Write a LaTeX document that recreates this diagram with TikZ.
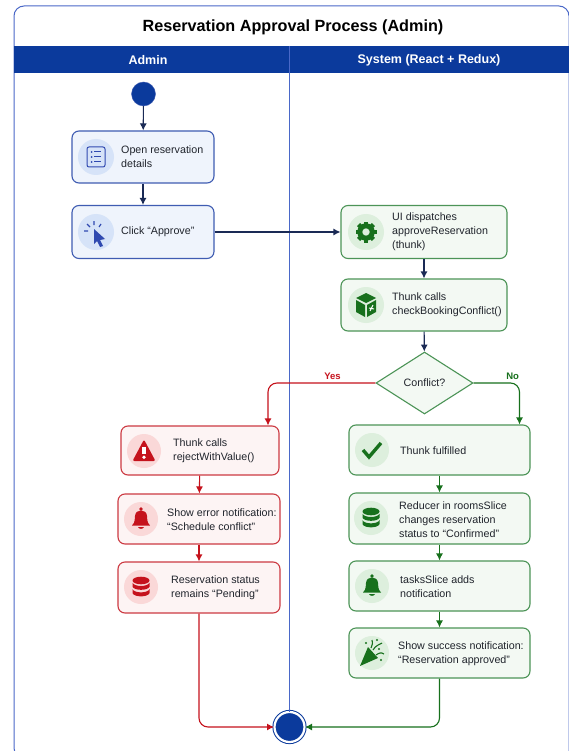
\documentclass[tikz,border=0pt]{standalone}
\usepackage{fontspec}
\setmainfont{Liberation Sans}
\usetikzlibrary{shapes.geometric, arrows.meta}
\definecolor{navy}{HTML}{0B3A9C}
\definecolor{framecol}{HTML}{4A68C8}
\definecolor{flowcol}{HTML}{1A2A55}
\definecolor{inkcol}{HTML}{20242C}
\definecolor{blueline}{HTML}{3F5CB2}
\definecolor{bluefill}{HTML}{EFF4FC}
\definecolor{bluedisc}{HTML}{D6E3F8}
\definecolor{blueicon}{HTML}{2F49B0}
\definecolor{greenline}{HTML}{4C9457}
\definecolor{greenfill}{HTML}{F3F9F3}
\definecolor{greendisc}{HTML}{DDEFDD}
\definecolor{greenicon}{HTML}{17701C}
\definecolor{redline}{HTML}{CC3A42}
\definecolor{redfill}{HTML}{FDF4F4}
\definecolor{reddisc}{HTML}{FAD8D8}
\definecolor{redicon}{HTML}{C5121C}
\tikzset{
    bluebox/.style={draw=blueline, fill=bluefill, line width=1.1pt, rounded corners=7pt},
    greenbox/.style={draw=greenline, fill=greenfill, line width=1.1pt, rounded corners=7pt},
    redbox/.style={draw=redline, fill=redfill, line width=1.1pt, rounded corners=7pt},
    boxtext/.style={right, align=left, text=inkcol, font=\fontsize{10.7}{14}\selectfont, inner sep=0pt},
    lanehead/.style={text=white, font=\fontsize{12.5}{14}\selectfont\bfseries},
    tip/.style={-{Latex[length=7pt,width=7pt]}, line width=1.1pt},
    flow/.style={tip, flowcol},
    redflow/.style={tip, redicon},
    greenflow/.style={tip, greenicon},
    yesflow/.style={redflow, rounded corners=9pt},
    noflow/.style={greenflow, rounded corners=9pt},
    pics/listicon/.style={code={
        \draw[line width=1pt, rounded corners=2pt] (-9,-10) rectangle (9,10);
        \foreach \y in {-5,0,5} {
            \fill (-4.5,\y) circle (1);
            \draw[line width=1pt] (-2,\y) -- (5,\y);
        }
    }},
    pics/clickicon/.style={code={
        \fill (-2,-3) -- (9,7) -- (4,8) -- (7,14) -- (4,15) -- (1,9) -- (-2,12) -- cycle;
        \draw[line width=1.2pt] (-2,-11) -- (-2,-7) (-9,-8) -- (-6,-5) (-12,-1) -- (-8,-1) (5,-8) -- (3,-5);
    }},
    pics/gearicon/.style={code={
        \foreach \a in {0,45,...,315} {
            \draw[line width=4.4pt] (\a:6) -- (\a:10.5);
        }
        \draw[line width=5pt] (0,0) circle (6.2);
    }},
    pics/cubeicon/.style={code={
        \fill (0,-12) -- (10,-7) -- (0,-2) -- (-10,-7) -- cycle;
        \fill (-10,-5) -- (-1,0) -- (-1,12) -- (-10,7) -- cycle;
        \fill (10,-5) -- (1,0) -- (1,12) -- (10,7) -- cycle;
        \draw[white, line width=1pt] (7,0) -- (4,6) (3,3) -- (8,4);
    }},
    pics/warnicon/.style={code={
        \fill[rounded corners=2pt] (0,-11.5) -- (11.5,10) -- (-11.5,10) -- cycle;
        \fill[white] (-1.6,-4) rectangle (1.6,3);
        \fill[white] (0,6.2) circle (1.8);
    }},
    pics/bellicon/.style={code={
        \fill (0,-10) circle (1.8);
        \fill (-9,6.5) .. controls (-5.6,3) and (-6.4,0) .. (-6,-3) .. controls (-5.6,-10.5) and (5.6,-10.5) .. (6,-3) .. controls (6.4,0) and (5.6,3) .. (9,6.5) -- cycle;
        \fill (-3,8) .. controls (-1.6,10.5) and (1.6,10.5) .. (3,8) -- cycle;
    }},
    pics/dbicon/.style={code={
        \fill (0,-6.5) ellipse (8.5 and 3.8);
        \fill (-8.5,-4.2) .. controls (-6.5,0) and (6.5,0) .. (8.5,-4.2) -- (8.5,-0.2) .. controls (6.5,3.8) and (-6.5,3.8) .. (-8.5,-0.2) -- cycle;
        \fill (-8.5,2.2) .. controls (-6.5,6.4) and (6.5,6.4) .. (8.5,2.2) -- (8.5,6.2) .. controls (6.5,10.4) and (-6.5,10.4) .. (-8.5,6.2) -- cycle;
    }},
    pics/checkicon/.style={code={
        \draw[line width=3.4pt] (-9,0) -- (-3,7) -- (9,-7);
    }},
    pics/partyicon/.style={code={
        \fill (-12,13) -- (-4,-6) -- (6,5) -- cycle;
        \draw[line width=1.1pt] (-1,-5) .. controls (0,-8) and (1,-9) .. (0,-13) (1,-3) .. controls (4,-8) and (7,-8) .. (10,-10) (4,2) .. controls (7,0) and (9,-1) .. (12,1);
        \fill (-6,-10) circle (1.2) (5,-13) circle (1.2) (7,-4) circle (1.2) (9,7) circle (1.2);
    }}
}
\begin{document}
\begin{tikzpicture}[x=1pt, y=-1pt]
    \useasboundingbox (0,0) rectangle (569,751);
    % frame and lanes
    \fill[white] (0,0) rectangle (569,751);
    \draw[framecol, line width=1pt, rounded corners=10pt] (569,758) -- (14,758) -- (14,6) -- (569,6) -- (569,758);
    \fill[navy] (14,46) rectangle (569,73);
    \node[text=black, font=\fontsize{16.2}{18}\selectfont\bfseries] (title) at (293,27) {Reservation Approval Process (Admin)};
    \node[lanehead] (adminhead) at (148,60) {Admin};
    \node[lanehead] (systemhead) at (429,60) {System (React + Redux)};
    \coordinate (lanetop) at (289.5,46);

    % start and end
    \node[circle, fill=navy, draw=blueline, minimum size=24pt, inner sep=0pt] (start) at (143.5,94) {};
    \node[circle, fill=navy, draw=navy, line width=1pt, double=white, double distance=2.2pt, minimum size=30pt, inner sep=0pt] (finish) at (289.5,727) {};

    % admin boxes
    \node[bluebox, minimum width=142pt, minimum height=52pt] (openbox) at (143,157) {};
    \node[bluebox, minimum width=142pt, minimum height=53pt] (clickbox) at (143,232) {};
    \fill[bluedisc] (96,157) circle (18) (96,232) circle (18);
    \pic[color=blueicon] at (96,157) {listicon};
    \pic[color=blueicon] at (96,232) {clickicon};
    \node[boxtext] (opentext) at (121,157) {Open reservation\\details};
    \node[boxtext] (clicktext) at (121,232) {Click “Approve”};

    % system boxes
    \node[greenbox, minimum width=166pt, minimum height=53pt] (dispatchbox) at (424,232) {};
    \node[greenbox, minimum width=166pt, minimum height=52pt] (checkbox) at (424,305) {};
    \node[diamond, draw=greenline, fill=greenfill, line width=1.1pt, minimum width=97pt, minimum height=62pt, inner sep=0pt, text=inkcol, font=\fontsize{10.7}{14}\selectfont] (conflict) at (424.5,383) {Conflict?};
    \node[greenbox, minimum width=181pt, minimum height=50pt] (fulfilledbox) at (439.5,450) {};
    \node[greenbox, minimum width=181pt, minimum height=51pt] (reducerbox) at (439.5,518.5) {};
    \node[greenbox, minimum width=181pt, minimum height=50pt] (tasksbox) at (439.5,586) {};
    \node[greenbox, minimum width=181pt, minimum height=50pt] (successbox) at (439.5,653) {};
    \fill[greendisc] (366,232) circle (18) (366,305) circle (18) (372,450) circle (17) (371,518) circle (17) (372,586) circle (17) (372,653) circle (17);
    \pic[color=greenicon] at (366,232) {gearicon};
    \pic[color=greenicon] at (366,305) {cubeicon};
    \pic[color=greenicon] at (372,450) {checkicon};
    \pic[color=greenicon] at (371,518) {dbicon};
    \pic[color=greenicon] at (372,586) {bellicon};
    \pic[color=greenicon] at (372,653) {partyicon};
    \node[boxtext] (dispatchtext) at (392,232) {UI dispatches\\approveReservation\\(thunk)};
    \node[boxtext] (checktext) at (392,305) {Thunk calls\\checkBookingConflict()};
    \node[boxtext] (fulfilledtext) at (400,451) {Thunk fulfilled};
    \node[boxtext] (reducertext) at (399,520) {Reducer in roomsSlice\\changes reservation\\status to “Confirmed”};
    \node[boxtext] (taskstext) at (400,587) {tasksSlice adds\\notification};
    \node[boxtext] (successtext) at (398,654) {Show success notification:\\“Reservation approved”};

    % rejected boxes
    \node[redbox, minimum width=158pt, minimum height=49pt] (rejectbox) at (200,450.5) {};
    \node[redbox, minimum width=162pt, minimum height=50pt] (errorbox) at (199,519) {};
    \node[redbox, minimum width=162pt, minimum height=51pt] (pendingbox) at (199,587.5) {};
    \fill[reddisc] (144,451) circle (17) (141,519) circle (17) (141,587) circle (17);
    \pic[color=redicon] at (144,451) {warnicon};
    \pic[color=redicon] at (141,519) {bellicon};
    \pic[color=redicon] at (141,587) {dbicon};
    \node[boxtext] (rejecttext) at (173,451) {Thunk calls\\rejectWithValue()};
    \node[boxtext] (errortext) at (167,520) {Show error notification:\\“Schedule conflict”};
    \node[boxtext] (pendingtext) at (171,588) {Reservation status\\remains “Pending”};

    % connectors
    \draw[framecol, line width=1pt] (lanetop) -- (finish.north);
    \draw[flow] (start) -- (openbox);
    \draw[flow] (openbox) -- (clickbox);
    \draw[flow] (clickbox) -- (dispatchbox);
    \draw[flow] (dispatchbox) -- (checkbox);
    \draw[flow] (checkbox) -- (conflict);
    \draw[yesflow] (conflict.west) -| ([xshift=68pt]rejectbox.north) node[pos=0.2, above, font=\fontsize{9.5}{11}\selectfont\bfseries] {Yes};
    \draw[noflow] (conflict.east) -| ([xshift=80pt]fulfilledbox.north) node[pos=0.425, above, font=\fontsize{9.5}{11}\selectfont\bfseries] {No};
    \draw[redflow] (rejectbox) -- (errorbox);
    \draw[redflow] (errorbox) -- (pendingbox);
    \draw[greenflow] (fulfilledbox) -- (reducerbox);
    \draw[greenflow] (reducerbox) -- (tasksbox);
    \draw[greenflow] (tasksbox) -- (successbox);
    \draw[yesflow] (pendingbox) |- (finish);
    \draw[noflow] (successbox) |- (finish);
\end{tikzpicture}
\end{document}
